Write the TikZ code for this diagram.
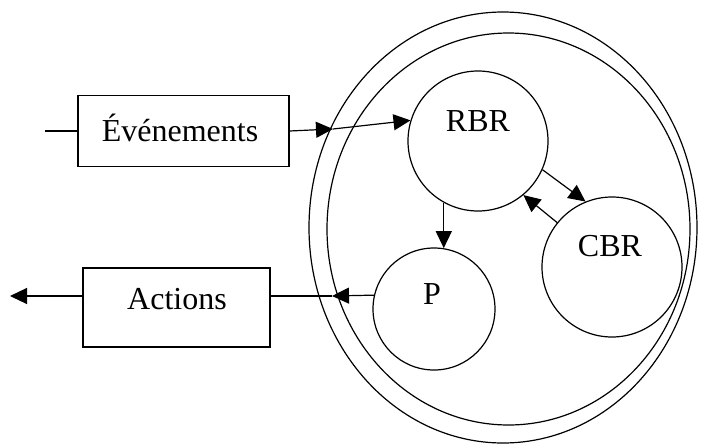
\documentclass[tikz,border=0pt]{standalone}
\usepackage{fontspec}
\setmainfont{Liberation Serif}
\usetikzlibrary{arrows.meta,shapes.geometric}
\begin{document}
\begin{tikzpicture}[x=1pt,y=-1pt,
  line width=1.2pt,
  every node/.style={font=\fontsize{32}{38}\selectfont},
  tip/.style={-{Triangle[length=17pt,width=16pt]}},
  boxnode/.style={draw,rectangle,inner sep=0pt},
  ring/.style={draw,ellipse,inner sep=0pt},
  unit/.style={draw,circle,inner sep=0pt},
  caption/.style={inner sep=0pt}]
\useasboundingbox (0,0) rectangle (702,445);

% agent envelope: two concentric ellipses
\node[ring,minimum width=388pt,minimum height=431pt] (outer) at (503,227.5) {};
\node[ring,minimum width=363pt,minimum height=392pt] (inner) at (508.5,229) {};

% reasoning units
\node[unit,minimum size=140pt] (rbr) at (478,141) {};
\node[unit,minimum size=122pt] (p) at (434,309) {};
\node[unit,minimum size=140pt] (cbr) at (612,267) {};
\node[caption] (rbrt) at (478,121) {RBR};
\node[caption] (pt) at (432,294) {P};
\node[caption] (cbrt) at (610,246) {CBR};

% input and output boxes
\node[boxnode,minimum width=211pt,minimum height=71pt] (ev) at (183.5,131) {};
\node[caption] (evt) at (180,128) {Événements};
\node[boxnode,minimum width=187pt,minimum height=79pt] (act) at (176.5,307.5) {};
\node[caption] (actt) at (177,299) {Actions};

% connector end points
\coordinate (in) at (45,131);
\coordinate (e1) at (333,129);
\coordinate (a1) at (332,296);
\coordinate (out) at (10,296);

% event flow into RBR
\draw (in) -- (ev.west);
\draw[tip] (ev.east) -- (e1);
\draw[tip] (e1) -- (rbr.163);

% RBR to P
\draw[tip] (rbr.241) -- (rbr.241 |- p.81);

% RBR <-> CBR exchange
\draw[tip] (rbr.336) -- (cbr.112);
\draw[tip] (cbr.141) -- (rbr.310);

% actions leaving through P
\draw[tip] (p.167) -- (a1);
\draw (a1) -- (a1 -| act.east);
\draw[tip] (a1 -| act.west) -- (out);
\end{tikzpicture}
\end{document}
